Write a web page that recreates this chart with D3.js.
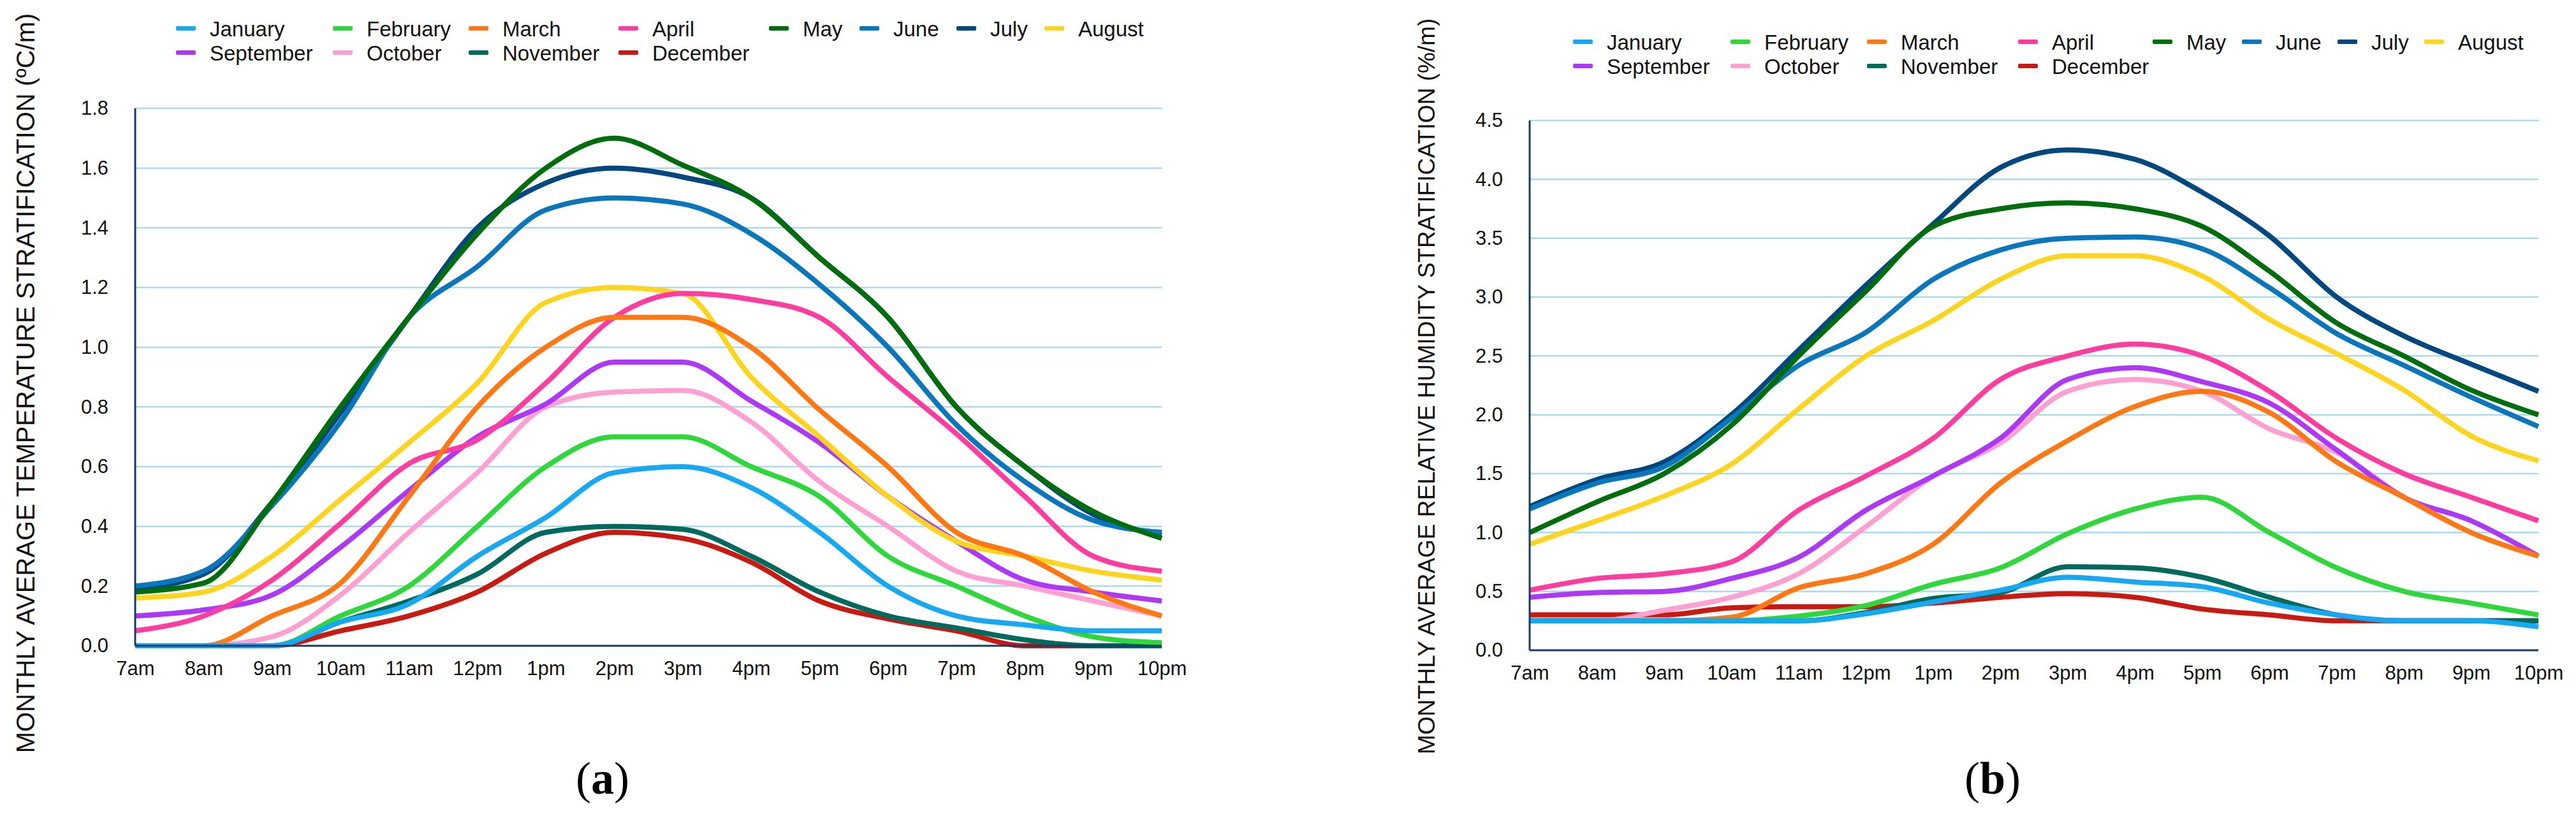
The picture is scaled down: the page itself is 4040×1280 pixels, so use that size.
<!DOCTYPE html>
<html>
<head>
<meta charset="utf-8">
<script src="https://cdn.jsdelivr.net/npm/d3@7"></script>
<style>
  body { margin: 0; background: #fff; }
  text { font-family: "Liberation Sans", Arial, Helvetica, sans-serif; }
</style>
</head>
<body>
<div id="wrapper"></div>
<script>
// 1. Data
const hours = ["7am", "8am", "9am", "10am", "11am", "12pm", "1pm", "2pm",
  "3pm", "4pm", "5pm", "6pm", "7pm", "8pm", "9pm", "10pm"]

const months = ["January", "February", "March", "April", "May", "June",
  "July", "August", "September", "October", "November", "December"]

const monthColors = ["#16a8f3", "#2fd83a", "#ff7814", "#ff3c9f", "#006d0c", "#0a76bb",
  "#00487f", "#ffd41e", "#ad39f7", "#ffa0d2", "#006a5e", "#c81a10"]

// temperature stratification (ºC/m), one row per month, 7am..10pm
const temperatureRows = [
  [0, 0, 0, 0.08, 0.14, 0.3, 0.43, 0.58, 0.6, 0.53, 0.38, 0.2, 0.1, 0.07, 0.05, 0.05],
  [0, 0, 0, 0.1, 0.2, 0.4, 0.6, 0.7, 0.7, 0.6, 0.5, 0.3, 0.2, 0.1, 0.03, 0.01],
  [0, 0, 0.1, 0.21, 0.5, 0.8, 1.0, 1.1, 1.1, 1.0, 0.79, 0.6, 0.38, 0.3, 0.18, 0.1],
  [0.05, 0.1, 0.22, 0.41, 0.61, 0.69, 0.88, 1.1, 1.18, 1.16, 1.1, 0.9, 0.71, 0.5, 0.3, 0.25],
  [0.18, 0.21, 0.48, 0.8, 1.1, 1.38, 1.6, 1.7, 1.61, 1.5, 1.3, 1.1, 0.8, 0.6, 0.45, 0.36],
  [0.2, 0.25, 0.47, 0.75, 1.1, 1.27, 1.46, 1.5, 1.48, 1.38, 1.21, 1.0, 0.74, 0.55, 0.42, 0.38],
  [0.19, 0.24, 0.48, 0.78, 1.1, 1.4, 1.55, 1.6, 1.57, 1.5, 1.3, 1.1, 0.8, 0.6, 0.44, 0.37],
  [0.16, 0.18, 0.3, 0.49, 0.68, 0.88, 1.15, 1.2, 1.18, 0.9, 0.7, 0.5, 0.35, 0.3, 0.25, 0.22],
  [0.1, 0.12, 0.17, 0.33, 0.52, 0.7, 0.81, 0.95, 0.95, 0.82, 0.68, 0.5, 0.35, 0.22, 0.18, 0.15],
  [0, 0, 0.03, 0.17, 0.38, 0.58, 0.8, 0.85, 0.855, 0.75, 0.55, 0.4, 0.25, 0.2, 0.15, 0.1],
  [0, 0, 0, 0.08, 0.15, 0.24, 0.38, 0.4, 0.39, 0.3, 0.18, 0.1, 0.06, 0.02, 0, 0],
  [0, 0, 0, 0.05, 0.1, 0.18, 0.31, 0.38, 0.36, 0.28, 0.15, 0.09, 0.05, 0, 0, 0]
]

// relative humidity stratification (%/m), one row per month, 7am..10pm
const humidityRows = [
  [0.25, 0.25, 0.25, 0.25, 0.25, 0.31, 0.41, 0.51, 0.62, 0.58, 0.54, 0.4, 0.3, 0.25, 0.25, 0.2],
  [0.25, 0.25, 0.25, 0.25, 0.29, 0.38, 0.56, 0.7, 0.99, 1.2, 1.3, 1.0, 0.7, 0.5, 0.4, 0.3],
  [0.25, 0.25, 0.25, 0.28, 0.53, 0.65, 0.9, 1.42, 1.78, 2.07, 2.2, 2.02, 1.6, 1.3, 1.0, 0.8],
  [0.51, 0.61, 0.65, 0.75, 1.19, 1.48, 1.8, 2.3, 2.5, 2.6, 2.5, 2.2, 1.8, 1.5, 1.3, 1.1],
  [1.0, 1.26, 1.5, 1.91, 2.5, 3.05, 3.6, 3.75, 3.8, 3.75, 3.6, 3.22, 2.78, 2.5, 2.21, 2.0],
  [1.2, 1.42, 1.56, 1.97, 2.42, 2.7, 3.15, 3.4, 3.5, 3.51, 3.41, 3.08, 2.69, 2.42, 2.15, 1.9],
  [1.22, 1.45, 1.6, 2.0, 2.55, 3.1, 3.62, 4.1, 4.25, 4.17, 3.89, 3.52, 3.0, 2.67, 2.43, 2.2],
  [0.9, 1.1, 1.31, 1.58, 2.05, 2.5, 2.8, 3.15, 3.35, 3.35, 3.18, 2.81, 2.52, 2.21, 1.82, 1.61],
  [0.45, 0.49, 0.5, 0.61, 0.79, 1.19, 1.48, 1.8, 2.3, 2.4, 2.28, 2.1, 1.7, 1.3, 1.1, 0.8],
  [0.25, 0.25, 0.34, 0.45, 0.65, 1.05, 1.48, 1.76, 2.2, 2.3, 2.2, 1.88, 1.68, 1.3, 1.0, 0.8],
  [0.25, 0.25, 0.25, 0.25, 0.25, 0.32, 0.44, 0.49, 0.71, 0.7, 0.62, 0.45, 0.3, 0.25, 0.25, 0.25],
  [0.3, 0.3, 0.3, 0.36, 0.37, 0.37, 0.4, 0.45, 0.48, 0.45, 0.35, 0.3, 0.25, 0.25, 0.25, 0.25]
]

const temperatureTicks = [0, 0.2, 0.4, 0.6, 0.8, 1.0, 1.2, 1.4, 1.6, 1.8]
const humidityTicks = [0, 0.5, 1.0, 1.5, 2.0, 2.5, 3.0, 3.5, 4.0, 4.5]

// 2. Canvas
const wrapper = d3.select("#wrapper")
  .append("svg")
    .attr("width", 4040)
    .attr("height", 1280)

wrapper.append("rect")
    .attr("width", 4040)
    .attr("height", 1280)
    .attr("fill", "white")

function drawPanel(p) {
  const xScale = d3.scalePoint()
    .domain(hours)
    .range([p.left, p.right])

  const yScale = d3.scaleLinear()
    .domain([0, d3.max(p.ticks)])
    .range([p.bottom, p.top])

  const panel = wrapper.append("g")

  // gridlines
  panel.append("g")
    .selectAll("line")
    .data(p.ticks.filter(d => d > 0))
    .join("line")
      .attr("x1", p.left)
      .attr("x2", p.right)
      .attr("y1", d => yScale(d))
      .attr("y2", d => yScale(d))
      .attr("stroke", "#a9dbec")
      .attr("stroke-width", 2.5)

  // y axis labels
  const yAxis = panel.append("g")
      .attr("transform", `translate(${p.left}, 0)`)
    .call(d3.axisLeft(yScale)
      .tickValues(p.ticks)
      .tickFormat(d3.format(".1f"))
      .tickSize(0)
      .tickPadding(42))
  yAxis.select(".domain").remove()
  yAxis.selectAll("text")
      .attr("fill", "#111")
      .style("font-size", "31px")

  // x axis labels
  const xAxis = panel.append("g")
      .attr("transform", `translate(0, ${p.bottom})`)
    .call(d3.axisBottom(xScale)
      .tickSize(0)
      .tickPadding(24))
  xAxis.select(".domain").remove()
  xAxis.selectAll("text")
      .attr("fill", "#111")
      .style("font-size", "31px")

  // lines, December first so January ends on top
  const lineGenerator = d3.line()
    .x((d, i) => xScale(hours[i]))
    .y(d => yScale(d))
    .curve(d3.curveMonotoneX)

  const order = d3.range(months.length).reverse()
  panel.append("g")
    .selectAll("path")
    .data(order)
    .join("path")
      .attr("d", i => lineGenerator(p.rows[i]))
      .attr("fill", "none")
      .attr("stroke", i => monthColors[i])
      .attr("stroke-width", 8)
      .attr("stroke-linejoin", "round")

  // axis lines
  panel.append("line")
      .attr("x1", p.left)
      .attr("x2", p.right)
      .attr("y1", p.bottom)
      .attr("y2", p.bottom)
      .attr("stroke", "#173a6b")
      .attr("stroke-width", 3)
  panel.append("line")
      .attr("x1", p.left)
      .attr("x2", p.left)
      .attr("y1", p.top)
      .attr("y2", p.bottom)
      .attr("stroke", "#173a6b")
      .attr("stroke-width", 3)

  // y axis title
  panel.append("text")
      .attr("transform", `translate(${p.titleX}, ${p.titleY}) rotate(-90)`)
      .attr("text-anchor", "middle")
      .attr("fill", "#111")
      .style("font-size", p.titleSize + "px")
      .text(p.title)

  // legend
  const legend = panel.append("g")
  const items = legend.selectAll("g")
    .data(months)
    .join("g")
      .attr("transform", (d, i) => {
        const col = i < 8 ? i : i - 8
        const row = i < 8 ? 0 : 1
        return `translate(${p.legendX[col]}, ${p.legendY[row]})`
      })
  items.append("rect")
      .attr("x", 0)
      .attr("y", -16)
      .attr("width", 31)
      .attr("height", 7)
      .attr("rx", 2)
      .attr("fill", (d, i) => monthColors[i])
  items.append("text")
      .attr("x", 53)
      .attr("fill", "#111")
      .style("font-size", "33px")
      .text(d => d)

  // panel label
  const label = panel.append("text")
      .attr("x", p.labelX)
      .attr("y", 1245)
      .attr("text-anchor", "middle")
      .style("font-family", "'Liberation Serif', 'Times New Roman', serif")
      .style("font-size", "72px")
      .attr("fill", "#000")
  label.append("tspan").text("(")
  label.append("tspan").style("font-weight", "bold").text(p.label)
  label.append("tspan").text(")")
}

drawPanel({
  rows: temperatureRows,
  ticks: temperatureTicks,
  left: 212, right: 1822, top: 170, bottom: 1013,
  title: "MONTHLY AVERAGE TEMPERATURE STRATIFICATION (ºC/m)",
  titleX: 54, titleY: 601, titleSize: 40,
  legendX: [276, 522, 735, 970, 1206, 1348, 1500, 1638],
  legendY: [57, 95],
  label: "a", labelX: 945
})

drawPanel({
  rows: humidityRows,
  ticks: humidityTicks,
  left: 2399, right: 3981, top: 189, bottom: 1020,
  title: "MONTHLY AVERAGE RELATIVE HUMIDITY STRATIFICATION (%/m)",
  titleX: 2250, titleY: 606, titleSize: 37,
  legendX: [2467, 2714, 2928, 3165, 3376, 3516, 3666, 3802],
  legendY: [78, 116],
  label: "b", labelX: 3125
})
</script>
</body>
</html>
